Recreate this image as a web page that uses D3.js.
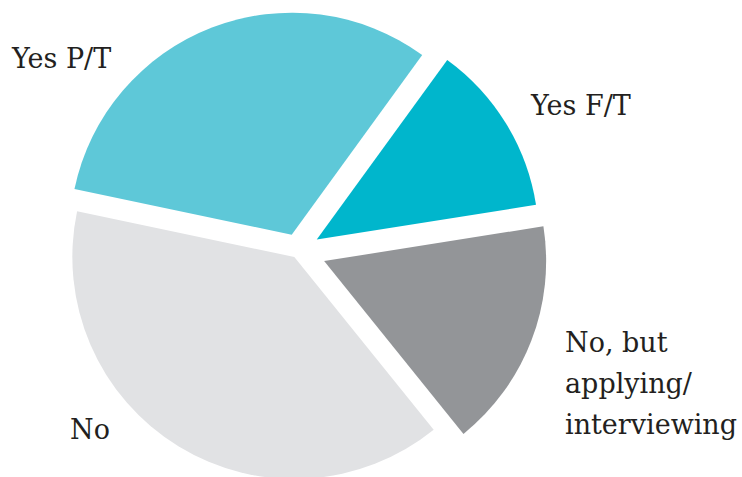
<!DOCTYPE html>
<html>
<head>
<meta charset="utf-8">
<script src="https://cdn.jsdelivr.net/npm/d3@7"></script>
<style>
    body { margin: 0; background: #fff; }
    svg text { font-family: "DejaVu Serif", serif; fill: #231f20; }
</style>
</head>
<body>
<svg id="chart"></svg>
<script>
// Slice categories and shares (percent), clockwise from the top-right
const categories = ["Yes F/T", "No, but applying/interviewing", "No", "Yes P/T"];
const shares = [12.5, 16.7, 39.1, 31.7];
const colors = ["#00b6cc", "#939598", "#e1e2e4", "#5ec8d8"];

// Label lines for each slice
const labelLines = [["Yes F/T"], ["No, but", "applying/", "interviewing"], ["No"], ["Yes P/T"]];

const width = 742, height = 477;
const radius = 222;
const cx = 298, cy = 251;

// How far each slice is pulled out of the centre
const explode = [22, 28, 7, 17.5];

// Label anchor positions (left edge, first baseline)
const labelPos = [[531, 115], [565, 352], [70, 439], [12, 68]];

const svg = d3.select("#chart")
    .attr("width", width)
    .attr("height", height);

const g = svg.append("g").attr("transform", `translate(${cx},${cy})`);

const pie = d3.pie()
    .sort(null)
    .startAngle(36 * Math.PI / 180)
    .endAngle(36 * Math.PI / 180 + 2 * Math.PI);

const arc = d3.arc().innerRadius(0).outerRadius(radius);

const arcs = pie(shares);

g.selectAll("path")
    .data(arcs)
    .join("path")
    .attr("d", arc)
    .attr("fill", (d, i) => colors[i])
    .attr("transform", (d, i) => {
        const mid = (d.startAngle + d.endAngle) / 2;
        return `translate(${Math.sin(mid) * explode[i]},${-Math.cos(mid) * explode[i]})`;
    });

// Labels
const labels = svg.selectAll("text.label")
    .data(categories)
    .join("text")
    .attr("class", "label")
    .attr("x", (d, i) => labelPos[i][0])
    .attr("y", (d, i) => labelPos[i][1])
    .attr("font-size", 27);

labels.each(function (d, i) {
    d3.select(this).selectAll("tspan")
        .data(labelLines[i])
        .join("tspan")
        .attr("x", labelPos[i][0])
        .attr("dy", (t, j) => j === 0 ? 0 : 41)
        .text(t => t);
});
</script>
</body>
</html>
